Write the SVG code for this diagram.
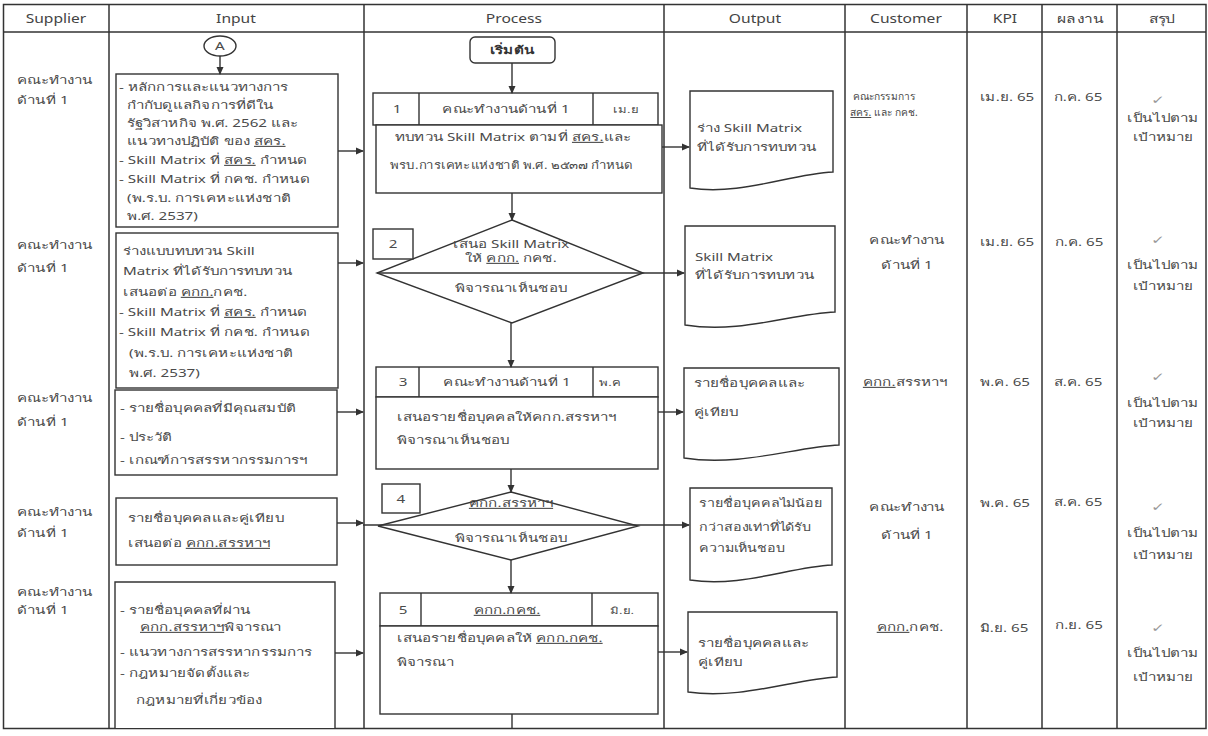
<svg xmlns="http://www.w3.org/2000/svg" width="1208" height="736" viewBox="0 0 1208 736">
<style>
.t{font-family:"Noto Sans","DejaVu Sans","Liberation Sans",sans-serif;font-size:11px;fill:#4a4a4a;transform-box:fill-box;transform-origin:left center;transform:scaleX(1.38)}
.c{text-anchor:middle;transform-origin:center}
.h{font-size:12px;fill:#444;transform:scaleX(1.3)}
.s{font-size:9.5px}
.b{font-weight:bold;fill:#333}
.ck{fill:#999;font-size:12px}
.ln{fill:none;stroke:#333;stroke-width:1.5}
.bx{fill:#fff;stroke:#333;stroke-width:1.4}
.cn{fill:none;stroke:#333;stroke-width:1.4}
.u{text-decoration:underline}
.nc{font-size:10px;transform:scaleX(1.02)}
</style>
<defs>
<marker id="ah" markerWidth="8" markerHeight="8" refX="7" refY="4" orient="auto" markerUnits="userSpaceOnUse">
<path d="M0,0.5 L8,4 L0,7.5 Z" fill="#333"/>
</marker>
</defs>
<rect width="1208" height="736" fill="#fff"/>

<g id="table">
<rect x="3.5" y="4.5" width="1202.5" height="724" class="ln"/>
<line x1="3.5" y1="32" x2="1206" y2="32" class="ln"/>
<line x1="109" y1="4.5" x2="109" y2="728.5" class="ln"/>
<line x1="364" y1="4.5" x2="364" y2="728.5" class="ln"/>
<line x1="664" y1="4.5" x2="664" y2="728.5" class="ln"/>
<line x1="845" y1="4.5" x2="845" y2="728.5" class="ln"/>
<line x1="967" y1="4.5" x2="967" y2="728.5" class="ln"/>
<line x1="1042" y1="4.5" x2="1042" y2="728.5" class="ln"/>
<line x1="1117" y1="4.5" x2="1117" y2="728.5" class="ln"/>
<text class="t c h" x="56" y="23">Supplier</text>
<text class="t c h" x="236" y="23">Input</text>
<text class="t c h" x="514" y="23">Process</text>
<text class="t c h" x="755" y="23">Output</text>
<text class="t c h" x="906" y="23">Customer</text>
<text class="t c h" x="1005" y="23">KPI</text>
<text class="t c h" x="1081" y="23">ผลงาน</text>
<text class="t c h" x="1162" y="23">สรุป</text>
</g>

<g id="suppliers">
<text class="t" x="17" y="84">คณะทำงาน</text><text class="t" x="17" y="104">ด้านที่ 1</text>
<text class="t" x="17" y="249">คณะทำงาน</text><text class="t" x="17" y="272">ด้านที่ 1</text>
<text class="t" x="17" y="402">คณะทำงาน</text><text class="t" x="17" y="426">ด้านที่ 1</text>
<text class="t" x="17" y="516">คณะทำงาน</text><text class="t" x="17" y="537">ด้านที่ 1</text>
<text class="t" x="17" y="596">คณะทำงาน</text><text class="t" x="17" y="614">ด้านที่ 1</text>
</g>

<g id="connector-A">
<ellipse cx="220" cy="46" rx="16" ry="10" class="bx"/>
<text class="t c" x="220" y="50">A</text>
</g>

<g id="input-1">
<rect x="116" y="74" width="222" height="153" class="bx"/>
<text class="t" x="119" y="91">- หลักการและแนวทางการ</text>
<text class="t" x="127" y="109">กำกับดูแลกิจการที่ดีใน</text>
<text class="t" x="127" y="127">รัฐวิสาหกิจ พ.ศ. 2562 และ</text>
<text class="t" x="127" y="145">แนวทางปฏิบัติ ของ <tspan class="u">สคร.</tspan></text>
<text class="t" x="119" y="164">- Skill Matrix ที่ <tspan class="u">สคร.</tspan> กำหนด</text>
<text class="t" x="119" y="183">- Skill Matrix ที่ กคช. กำหนด</text>
<text class="t" x="127" y="202">(พ.ร.บ. การเคหะแห่งชาติ</text>
<text class="t" x="127" y="220">พ.ศ. 2537)</text>
</g>

<g id="input-2">
<rect x="116" y="233" width="222" height="155" class="bx"/>
<text class="t" x="123" y="255">ร่างแบบทบทวน Skill</text>
<text class="t" x="123" y="275">Matrix ที่ได้รับการทบทวน</text>
<text class="t" x="123" y="296">เสนอต่อ <tspan class="u">คกก.</tspan>กคช.</text>
<text class="t" x="119" y="316">- Skill Matrix ที่ <tspan class="u">สคร.</tspan> กำหนด</text>
<text class="t" x="119" y="336">- Skill Matrix ที่ กคช. กำหนด</text>
<text class="t" x="129" y="357">(พ.ร.บ. การเคหะแห่งชาติ</text>
<text class="t" x="129" y="377">พ.ศ. 2537)</text>
</g>

<g id="input-3">
<rect x="115" y="390" width="222" height="85" class="bx"/>
<text class="t" x="120" y="412">- รายชื่อบุคคลที่มีคุณสมบัติ</text>
<text class="t" x="120" y="441">- ประวัติ</text>
<text class="t" x="120" y="464">- เกณฑ์การสรรหากรรมการฯ</text>
</g>

<g id="input-4">
<rect x="116" y="498" width="221" height="67" class="bx"/>
<text class="t" x="128" y="522">รายชื่อบุคคลและคู่เทียบ</text>
<text class="t" x="128" y="547">เสนอต่อ <tspan class="u">คกก.สรรหาฯ</tspan></text>
</g>

<g id="input-5">
<path d="M115,728 V582 H335 V728" class="bx"/>
<text class="t" x="120" y="614">- รายชื่อบุคคลที่ผ่าน</text>
<text class="t" x="140" y="631"><tspan class="u">คกก.สรรหาฯ</tspan>พิจารณา</text>
<text class="t" x="120" y="656">- แนวทางการสรรหากรรมการ</text>
<text class="t" x="120" y="677">- กฎหมายจัดตั้งและ</text>
<text class="t" x="136" y="704">กฎหมายที่เกี่ยวข้อง</text>
</g>

<g id="start">
<rect x="470" y="37" width="85" height="26" rx="5" class="bx"/>
<text class="t c b" x="512" y="54">เริ่มต้น</text>
</g>

<g id="process-1">
<rect x="373" y="93" width="285" height="32" class="bx"/>
<line x1="419" y1="93" x2="419" y2="125" class="cn"/>
<line x1="593" y1="93" x2="593" y2="125" class="cn"/>
<text class="t c" x="397" y="113">1</text>
<text class="t c" x="506" y="113">คณะทำงานด้านที่ 1</text>
<text class="t c s" x="626" y="113">เม.ย</text>
<rect x="376" y="125" width="286" height="68" class="bx"/>
<text class="t" x="395" y="141">ทบทวน Skill Matrix ตามที่ <tspan class="u">สคร.</tspan>และ</text>
<text class="t" x="390" y="169" style="transform:scaleX(1.2)">พรบ.การเคหะแห่งชาติ พ.ศ. ๒๕๓๗ กำหนด</text>
</g>

<g id="process-2">
<polygon points="512,220 643,273 512,323 377,273" class="bx"/>
<text class="t c" x="511" y="248">เสนอ Skill Matrix</text>
<text class="t c" x="511" y="262">ให้ <tspan class="u">คกก.</tspan> กคช.</text>
<text class="t c" x="511" y="292">พิจารณาเห็นชอบ</text>
<rect x="373" y="229" width="40" height="30" class="bx"/>
<text class="t c" x="393" y="248">2</text>
</g>

<g id="process-3">
<rect x="376" y="367" width="282" height="30" class="bx"/>
<line x1="419" y1="367" x2="419" y2="397" class="cn"/>
<line x1="593" y1="367" x2="593" y2="397" class="cn"/>
<text class="t c" x="403" y="386">3</text>
<text class="t c" x="507" y="386">คณะทำงานด้านที่ 1</text>
<text class="t c s" x="610" y="386">พ.ค</text>
<rect x="376" y="397" width="282" height="72" class="bx"/>
<text class="t" x="397" y="421">เสนอรายชื่อบุคคลให้คกก.สรรหาฯ</text>
<text class="t" x="397" y="444">พิจารณาเห็นชอบ</text>
</g>

<g id="process-4">
<polygon points="511,492 638,526 511,560 378,526" class="bx"/>
<text class="t c" x="511" y="507"><tspan class="u">คกก.สรรหาฯ</tspan></text>
<text class="t c" x="511" y="542">พิจารณาเห็นชอบ</text>
<rect x="382" y="484" width="38" height="29" class="bx"/>
<text class="t c" x="401" y="503">4</text>
</g>

<g id="process-5">
<rect x="380" y="593" width="278" height="33" class="bx"/>
<line x1="421" y1="593" x2="421" y2="626" class="cn"/>
<line x1="592" y1="593" x2="592" y2="626" class="cn"/>
<text class="t c" x="403" y="614">5</text>
<text class="t c" x="507" y="614"><tspan class="u">คกก.กคช.</tspan></text>
<text class="t c s" x="622" y="614">มิ.ย.</text>
<rect x="380" y="626" width="278" height="88" class="bx"/>
<text class="t" x="397" y="642">เสนอรายชื่อบุคคลให้ <tspan class="u">คกก.กคช.</tspan></text>
<text class="t" x="397" y="666">พิจารณา</text>
</g>

<g id="output-1">
<path d="M690,91 H833 V172 C790,174 740,196 690,188 Z" class="bx"/>
<text class="t" x="697" y="132">ร่าง Skill Matrix</text>
<text class="t" x="697" y="151">ที่ได้รับการทบทวน</text>
</g>
<g id="output-2">
<path d="M685,226 H835 V312 C790,314 740,334 685,325 Z" class="bx"/>
<text class="t" x="695" y="261">Skill Matrix</text>
<text class="t" x="695" y="279">ที่ได้รับการทบทวน</text>
</g>
<g id="output-3">
<path d="M684,368 H839 V445 C795,447 740,467 684,458 Z" class="bx"/>
<text class="t" x="694" y="387">รายชื่อบุคคลและ</text>
<text class="t" x="694" y="416">คู่เทียบ</text>
</g>
<g id="output-4">
<path d="M690,488 H832 V565 C790,567 740,588 690,580 Z" class="bx"/>
<text class="t" x="699" y="507" style="transform:scaleX(1.3)">รายชื่อบุคคลไม่น้อย</text>
<text class="t" x="699" y="531" style="transform:scaleX(1.3)">กว่าสองเท่าที่ได้รับ</text>
<text class="t" x="699" y="552" style="transform:scaleX(1.3)">ความเห็นชอบ</text>
</g>
<g id="output-5">
<path d="M688,612 H837 V677 C795,679 740,700 688,692 Z" class="bx"/>
<text class="t" x="698" y="647">รายชื่อบุคคลและ</text>
<text class="t" x="698" y="666">คู่เทียบ</text>
</g>

<g id="customers">
<text class="t c nc" x="884" y="100">คณะกรรมการ</text>
<text class="t c nc" x="884" y="116"><tspan class="u">สคร.</tspan> และ กคช.</text>
<text class="t c" x="907" y="244">คณะทำงาน</text><text class="t c" x="907" y="269">ด้านที่ 1</text>
<text class="t c" x="905" y="386"><tspan class="u">คกก.</tspan>สรรหาฯ</text>
<text class="t c" x="907" y="511">คณะทำงาน</text><text class="t c" x="907" y="539">ด้านที่ 1</text>
<text class="t c" x="910" y="631"><tspan class="u">คกก.</tspan>กคช.</text>
</g>

<g id="kpi">
<text class="t c" x="1007" y="101">เม.ย. 65</text>
<text class="t c" x="1007" y="246">เม.ย. 65</text>
<text class="t c" x="1005" y="386">พ.ค. 65</text>
<text class="t c" x="1005" y="507">พ.ค. 65</text>
<text class="t c" x="1004" y="632">มิ.ย. 65</text>
</g>

<g id="results">
<text class="t c" x="1078" y="101">ก.ค. 65</text>
<text class="t c" x="1079" y="246">ก.ค. 65</text>
<text class="t c" x="1078" y="386">ส.ค. 65</text>
<text class="t c" x="1078" y="506">ส.ค. 65</text>
<text class="t c" x="1079" y="629">ก.ย. 65</text>
</g>

<g id="summary">
<text class="t c ck" x="1158" y="104">✓</text>
<text class="t c" x="1163" y="122">เป็นไปตาม</text><text class="t c" x="1163" y="141">เป้าหมาย</text>
<text class="t c ck" x="1158" y="244">✓</text>
<text class="t c" x="1163" y="269">เป็นไปตาม</text><text class="t c" x="1163" y="290">เป้าหมาย</text>
<text class="t c ck" x="1158" y="381">✓</text>
<text class="t c" x="1163" y="407">เป็นไปตาม</text><text class="t c" x="1163" y="427">เป้าหมาย</text>
<text class="t c ck" x="1158" y="511">✓</text>
<text class="t c" x="1163" y="537">เป็นไปตาม</text><text class="t c" x="1163" y="559">เป้าหมาย</text>
<text class="t c ck" x="1158" y="632">✓</text>
<text class="t c" x="1163" y="657">เป็นไปตาม</text><text class="t c" x="1163" y="681">เป้าหมาย</text>
</g>

<g id="connectors">
<line x1="220" y1="56" x2="220" y2="74" class="cn" marker-end="url(#ah)"/>
<line x1="338" y1="151" x2="363" y2="151" class="cn" marker-end="url(#ah)"/>
<line x1="338" y1="263" x2="363" y2="263" class="cn" marker-end="url(#ah)"/>
<line x1="337" y1="412" x2="363" y2="412" class="cn" marker-end="url(#ah)"/>
<line x1="337" y1="523" x2="363" y2="523" class="cn" marker-end="url(#ah)"/>
<line x1="335" y1="653" x2="363" y2="653" class="cn" marker-end="url(#ah)"/>
<line x1="512" y1="63" x2="512" y2="93" class="cn" marker-end="url(#ah)"/>
<line x1="512" y1="193" x2="512" y2="220" class="cn" marker-end="url(#ah)"/>
<line x1="511" y1="323" x2="511" y2="367" class="cn" marker-end="url(#ah)"/>
<line x1="511" y1="469" x2="511" y2="492" class="cn" marker-end="url(#ah)"/>
<line x1="511" y1="560" x2="511" y2="593" class="cn" marker-end="url(#ah)"/>
<line x1="512" y1="714" x2="512" y2="728" class="cn"/>
<line x1="662" y1="147" x2="689" y2="147" class="cn" marker-end="url(#ah)"/>
<line x1="377" y1="273" x2="684" y2="273" class="cn" marker-end="url(#ah)"/>
<line x1="658" y1="412" x2="683" y2="412" class="cn" marker-end="url(#ah)"/>
<line x1="363" y1="525" x2="689" y2="525" class="cn" marker-end="url(#ah)"/>
<line x1="658" y1="652" x2="687" y2="652" class="cn" marker-end="url(#ah)"/>
</g>
</svg>
